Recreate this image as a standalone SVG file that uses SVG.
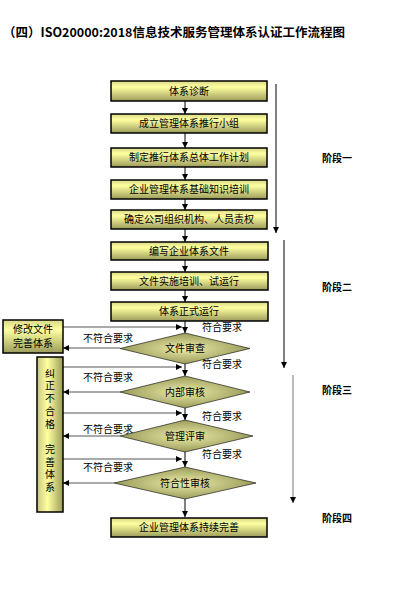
<svg xmlns="http://www.w3.org/2000/svg" width="419" height="608" viewBox="0 0 419 608">
<style>
text{font-family:"Noto Sans CJK SC","Noto Sans",sans-serif;fill:#000}
.t{font-size:10px;text-anchor:middle}
.l{font-size:10px}
.s{font-size:10px;font-weight:bold}
.box{fill:url(#gv);stroke:#000;stroke-width:1.5}
.dia{fill:url(#gd);stroke:#000;stroke-width:0.6}
.c{stroke:#000;stroke-width:1;fill:none;marker-end:url(#ah)}
.cg{stroke:#555;stroke-width:1;fill:none;marker-end:url(#ah)}
</style>
<defs>
<linearGradient id="gv" x1="0" y1="0" x2="0" y2="1">
<stop offset="0" stop-color="#d8d888"/>
<stop offset="0.3" stop-color="#ffffa0"/>
<stop offset="1" stop-color="#9c9c5c"/>
</linearGradient>
<linearGradient id="gh" x1="0" y1="0" x2="1" y2="0">
<stop offset="0" stop-color="#c8c880"/>
<stop offset="0.4" stop-color="#ffffa0"/>
<stop offset="1" stop-color="#9c9c5c"/>
</linearGradient>
<radialGradient id="gd" cx="0.5" cy="0.5" r="0.5">
<stop offset="0" stop-color="#eeeeaa"/>
<stop offset="1" stop-color="#9a9a5a"/>
</radialGradient>
<marker id="ah" markerWidth="6" markerHeight="6" refX="6" refY="3" orient="auto" markerUnits="userSpaceOnUse">
<path d="M0,0 L6,3 L0,6 Z" fill="#000"/>
</marker>
</defs>
<text x="3" y="37" style="font-size:12.5px;font-weight:bold">（四）ISO20000:2018信息技术服务管理体系认证工作流程图</text>

<g id="connectors">
<line class="c" x1="185" y1="101" x2="185" y2="114"/>
<line class="c" x1="185" y1="133" x2="185" y2="148"/>
<line class="c" x1="185" y1="167" x2="185" y2="180"/>
<line class="c" x1="185" y1="199" x2="185" y2="210"/>
<line class="c" x1="185" y1="229" x2="185" y2="242"/>
<line class="c" x1="185" y1="260" x2="185" y2="272"/>
<line class="c" x1="185" y1="290" x2="185" y2="302"/>
<line class="c" x1="185" y1="321" x2="185" y2="333"/>
<line class="c" x1="185" y1="364" x2="185" y2="376"/>
<line class="c" x1="185" y1="408" x2="185" y2="420"/>
<line class="c" x1="185" y1="452" x2="185" y2="467"/>
<line class="c" x1="185" y1="499" x2="185" y2="517"/>
<line class="cg" x1="63" y1="327" x2="182" y2="327"/>
<line class="cg" x1="63" y1="367" x2="182" y2="367"/>
<line class="cg" x1="63" y1="413" x2="182" y2="413"/>
<line class="cg" x1="63" y1="459" x2="182" y2="459"/>
<line class="cg" x1="120" y1="348" x2="63" y2="348"/>
<line class="cg" x1="120" y1="392" x2="63" y2="392"/>
<line class="cg" x1="120" y1="436" x2="63" y2="436"/>
<line class="cg" x1="114" y1="483" x2="63" y2="483"/>
<line class="c" x1="276" y1="84" x2="276" y2="233"/>
<line class="c" x1="284" y1="240" x2="284" y2="368"/>
<line class="cg" x1="293" y1="375" x2="293" y2="503" style="stroke:#777"/>
</g>

<g id="n1"><rect class="box" x="111" y="81" width="156" height="20"/><text class="t" x="189" y="95">体系诊断</text></g>
<g id="n2"><rect class="box" x="111" y="114" width="156" height="19"/><text class="t" x="189" y="127">成立管理体系推行小组</text></g>
<g id="n3"><rect class="box" x="111" y="148" width="156" height="19"/><text class="t" x="189" y="161">制定推行体系总体工作计划</text></g>
<g id="n4"><rect class="box" x="111" y="180" width="156" height="19"/><text class="t" x="189" y="193">企业管理体系基础知识培训</text></g>
<g id="n5"><rect class="box" x="111" y="210" width="156" height="19"/><text class="t" x="189" y="223">确定公司组织机构、人员责权</text></g>
<g id="n6"><rect class="box" x="111" y="242" width="157" height="18"/><text class="t" x="189" y="255">编写企业体系文件</text></g>
<g id="n7"><rect class="box" x="111" y="272" width="157" height="18"/><text class="t" x="189" y="285">文件实施培训、试运行</text></g>
<g id="n8"><rect class="box" x="111" y="302" width="157" height="19"/><text class="t" x="189" y="315">体系正式运行</text></g>
<g id="d1"><polygon class="dia" points="185,333 250,348.5 185,364 120,348.5"/><text class="t" x="185" y="352">文件审查</text></g>
<g id="d2"><polygon class="dia" points="185,376 250,392 185,408 120,392"/><text class="t" x="185" y="396">内部审核</text></g>
<g id="d3"><polygon class="dia" points="185,420 253,436 185,452 120,436"/><text class="t" x="185" y="440">管理评审</text></g>
<g id="d4"><polygon class="dia" points="185,467 256,483 185,499 114,483"/><text class="t" x="185" y="487">符合性审核</text></g>
<g id="n9"><rect class="box" x="111" y="518" width="156" height="19"/><text class="t" x="189" y="531">企业管理体系持续完善</text></g>
<g id="m1"><rect class="box" x="3" y="320" width="60" height="33"/><text class="t" x="33" y="333">修改文件</text><text class="t" x="33" y="347">完善体系</text></g>
<g id="m2"><rect x="37" y="357" width="26" height="155" style="fill:url(#gh);stroke:#000;stroke-width:1.5"/>
<text x="50" y="368" style="font-size:10px;writing-mode:vertical-rl;letter-spacing:2.7px">纠正不合格　完善体系</text></g>

<g id="labels">
<text class="l" x="202" y="331">符合要求</text>
<text class="l" x="202" y="368">符合要求</text>
<text class="l" x="202" y="420">符合要求</text>
<text class="l" x="202" y="458">符合要求</text>
<text class="l" x="83" y="342">不符合要求</text>
<text class="l" x="83" y="381">不符合要求</text>
<text class="l" x="83" y="433">不符合要求</text>
<text class="l" x="83" y="471">不符合要求</text>
<text class="s" x="322" y="162">阶段一</text>
<text class="s" x="322" y="291">阶段二</text>
<text class="s" x="322" y="394">阶段三</text>
<text class="s" x="322" y="522">阶段四</text>
</g>
</svg>
